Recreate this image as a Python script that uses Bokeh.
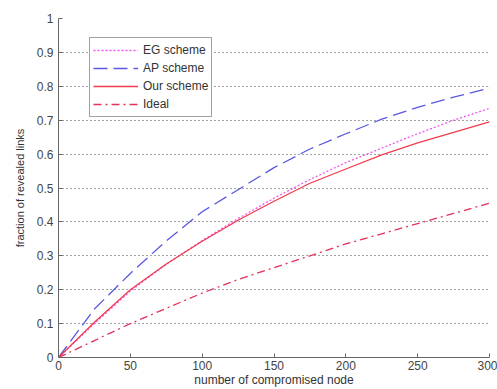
from bokeh.plotting import figure
from bokeh.models import FixedTicker, Legend, LegendItem, Range1d
from bokeh.embed import file_html
from bokeh.resources import INLINE

nodes = [0, 25, 50, 75, 100, 125, 150, 175, 200, 225, 250, 275, 300]
eg_scheme = [0, 0.10, 0.196, 0.275, 0.345, 0.41, 0.47, 0.525, 0.575, 0.618, 0.66, 0.70, 0.735]
ap_scheme = [0, 0.143, 0.248, 0.344, 0.43, 0.495, 0.56, 0.615, 0.66, 0.703, 0.738, 0.768, 0.795]
our_scheme = [0, 0.104, 0.20, 0.276, 0.343, 0.405, 0.461, 0.514, 0.556, 0.598, 0.633, 0.664, 0.695]
ideal = [0, 0.05, 0.10, 0.145, 0.19, 0.23, 0.265, 0.30, 0.335, 0.365, 0.395, 0.425, 0.455]

x_ticks = [0, 50, 100, 150, 200, 250, 300]
y_ticks = [0, 0.1, 0.2, 0.3, 0.4, 0.5, 0.6, 0.7, 0.8, 0.9, 1]
y_tick_labels = ["0", "0.1", "0.2", "0.3", "0.4", "0.5", "0.6", "0.7", "0.8", "0.9", "1"]

FONT = "Liberation Sans"

p = figure(width=497, height=389, output_backend="svg", toolbar_location=None,
           x_range=Range1d(0, 300), y_range=Range1d(0, 1),
           min_border_left=58, min_border_right=8, min_border_top=18, min_border_bottom=32)
p.outline_line_color = None
p.background_fill_color = "white"
p.border_fill_color = "white"

for ax in (p.xaxis[0], p.yaxis[0]):
    ax.axis_line_color = "#666666"
    ax.major_tick_line_color = "#666666"
    ax.major_tick_in = 4
    ax.major_tick_out = 0
    ax.minor_tick_line_color = None
    ax.major_label_text_font = FONT
    ax.major_label_text_font_size = "12px"
    ax.major_label_text_color = "#444444"
    ax.axis_label_text_font = FONT
    ax.axis_label_text_font_size = "12px"
    ax.axis_label_text_font_style = "normal"
    ax.axis_label_text_color = "#333333"

p.yaxis.axis_label_text_font_size = "11px"
p.xaxis.ticker = FixedTicker(ticks=x_ticks)
p.yaxis.ticker = FixedTicker(ticks=y_ticks)
p.yaxis.major_label_overrides = {t: l for t, l in zip(y_ticks, y_tick_labels)}
p.xaxis.axis_label = "number of compromised node"
p.yaxis.axis_label = "fraction of revealed links"
p.xaxis.major_label_standoff = 3
p.xaxis.axis_label_standoff = 0
p.yaxis.major_label_standoff = 5
p.yaxis.axis_label_standoff = 8

p.xgrid.grid_line_color = None
p.ygrid.grid_line_color = "#444444"
p.ygrid.grid_line_dash = "1 3"
p.ygrid.grid_line_width = 1

r_eg = p.line(nodes, eg_scheme, line_color="#f055f0", line_width=1.3, line_dash="2 2")
r_ap = p.line(nodes, ap_scheme, line_color="#5858e0", line_width=1.3, line_dash="14 6")
r_our = p.line(nodes, our_scheme, line_color="#f03c4c", line_width=1.3)
r_ideal = p.line(nodes, ideal, line_color="#e5305a", line_width=1.3, line_dash="8 4 2 4")

legend = Legend(items=[
    LegendItem(label="EG scheme", renderers=[r_eg]),
    LegendItem(label="AP scheme", renderers=[r_ap]),
    LegendItem(label="Our scheme", renderers=[r_our]),
    LegendItem(label="Ideal", renderers=[r_ideal]),
], location=(31, 240))
legend.label_text_font = FONT
legend.label_text_font_size = "12px"
legend.label_text_color = "#333333"
legend.glyph_width = 45
legend.glyph_height = 18
legend.label_height = 18
legend.label_standoff = 5
legend.spacing = 0
legend.padding = 3
legend.margin = 0
legend.border_line_color = "#444444"
legend.border_line_width = 1
legend.background_fill_color = "white"
legend.background_fill_alpha = 1
p.add_layout(legend, "center")

open("out.html", "w").write(file_html(p, INLINE))
